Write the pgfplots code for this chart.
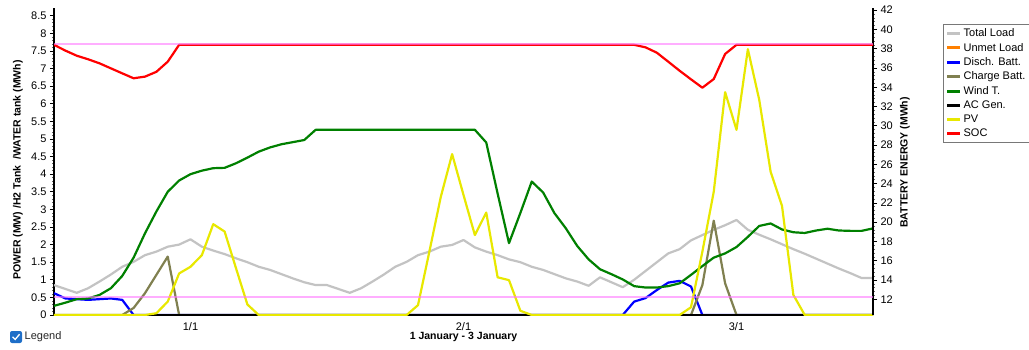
\documentclass[border=0pt]{standalone}
\usepackage{pgfplots}
\pgfplotsset{compat=1.18}
\usepackage{pgfplotstable}
\usepackage{fontspec}
\setmainfont{Liberation Sans}

\definecolor{cload}{RGB}{195,195,195}
\definecolor{cunmet}{RGB}{255,128,0}
\definecolor{cdis}{RGB}{0,0,255}
\definecolor{cchg}{RGB}{128,128,80}
\definecolor{cwind}{RGB}{0,128,0}
\definecolor{cpv}{RGB}{232,232,0}
\definecolor{csoc}{RGB}{255,0,0}
\definecolor{cpink}{RGB}{255,120,255}
\definecolor{cbox}{RGB}{30,110,200}
\definecolor{clegbox}{RGB}{120,120,120}

\pgfplotstableread{
h load unmet dis chg wind ac pv soc
0 0.85 0 0.62 0 0.26 0 0 38.4
1 0.74 0 0.47 0 0.35 0 0 37.8
2 0.63 0 0.45 0 0.45 0 0 37.27
3 0.76 0 0.43 0 0.47 0 0 36.9
4 0.95 0 0.45 0 0.57 0 0 36.48
5 1.15 0 0.47 0 0.76 0 0 35.96
6 1.37 0 0.43 0 1.11 0 0 35.44
7 1.51 0 0 0.20 1.63 0 0 34.93
8 1.70 0 0 0.62 2.32 0 0 35.1
9 1.80 0 0 1.14 2.94 0 0.05 35.6
10 1.94 0 0 1.66 3.50 0 0.38 36.65
11 2.00 0 0 0 3.82 0 1.18 38.4
12 2.15 0 0 0 4.00 0 1.37 38.4
13 1.94 0 0 0 4.10 0 1.70 38.4
14 1.83 0 0 0 4.17 0 2.58 38.4
15 1.73 0 0 0 4.18 0 2.37 38.4
16 1.61 0 0 0 4.31 0 1.33 38.4
17 1.50 0 0 0 4.47 0 0.30 38.4
18 1.37 0 0 0 4.64 0 0 38.4
19 1.28 0 0 0 4.76 0 0 38.4
20 1.16 0 0 0 4.85 0 0 38.4
21 1.04 0 0 0 4.91 0 0 38.4
22 0.93 0 0 0 4.97 0 0 38.4
23 0.85 0 0 0 5.26 0 0 38.4
24 0.85 0 0 0 5.26 0 0 38.4
25 0.74 0 0 0 5.26 0 0 38.4
26 0.63 0 0 0 5.26 0 0 38.4
27 0.76 0 0 0 5.26 0 0 38.4
28 0.95 0 0 0 5.26 0 0 38.4
29 1.15 0 0 0 5.26 0 0 38.4
30 1.37 0 0 0 5.26 0 0 38.4
31 1.51 0 0 0 5.26 0 0 38.4
32 1.70 0 0 0 5.26 0 0.28 38.4
33 1.80 0 0 0 5.26 0 1.80 38.4
34 1.94 0 0 0 5.26 0 3.35 38.4
35 1.99 0 0 0 5.26 0 4.57 38.4
36 2.13 0 0 0 5.26 0 3.41 38.4
37 1.92 0 0 0 5.26 0 2.27 38.4
38 1.80 0 0 0 4.90 0 2.91 38.4
39 1.70 0 0 0 3.45 0 1.07 38.4
40 1.58 0 0 0 2.04 0 0.99 38.4
41 1.50 0 0 0 2.90 0 0.12 38.4
42 1.37 0 0 0 3.79 0 0 38.4
43 1.28 0 0 0 3.48 0 0 38.4
44 1.16 0 0 0 2.89 0 0 38.4
45 1.04 0 0 0 2.46 0 0 38.4
46 0.95 0 0 0 1.96 0 0 38.4
47 0.83 0 0 0 1.58 0 0 38.4
48 1.07 0 0 0 1.30 0 0 38.4
49 0.93 0 0 0 1.16 0 0 38.4
50 0.79 0 0 0 1.01 0 0 38.4
51 1.00 0 0.38 0 0.82 0 0 38.4
52 1.25 0 0.48 0 0.78 0 0 38.14
53 1.50 0 0.71 0 0.78 0 0 37.58
54 1.75 0 0.92 0 0.82 0 0 36.65
55 1.87 0 0.97 0 0.90 0 0 35.71
56 2.12 0 0.81 0 1.14 0 0.22 34.82
57 2.27 0 0 0.85 1.39 0 1.80 33.95
58 2.42 0 0 2.68 1.63 0 3.50 34.85
59 2.55 0 0 0.90 1.75 0 6.33 37.45
60 2.70 0 0 0 1.93 0 5.26 38.4
61 2.42 0 0 0 2.22 0 7.55 38.4
62 2.28 0 0 0 2.53 0 6.11 38.4
63 2.15 0 0 0 2.60 0 4.07 38.4
64 2.01 0 0 0 2.43 0 3.10 38.4
65 1.87 0 0 0 2.35 0 0.57 38.4
66 1.74 0 0 0 2.33 0 0 38.4
67 1.60 0 0 0 2.40 0 0 38.4
68 1.46 0 0 0 2.45 0 0 38.4
69 1.32 0 0 0 2.40 0 0 38.4
70 1.19 0 0 0 2.39 0 0 38.4
71 1.05 0 0 0 2.39 0 0 38.4
72 1.05 0 0 0 2.46 0 0 38.4
}\data

\pgfplotsset{
  every axis/.append style={
    scale only axis, width=819pt, height=307pt,
    xmin=0, xmax=72,
    tick label style={font=\fontsize{11}{13}\selectfont},
    label style={font=\bfseries\fontsize{10.5}{12}\selectfont},
    /pgf/number format/assume math mode=true,
  },
}

\begin{document}
\begin{tikzpicture}[x=1pt,y=1pt]
\path[use as bounding box] (0,0) rectangle (1029,349);

\begin{axis}[
  at={(54pt,34pt)}, anchor=south west,
  axis y line*=left, axis x line*=bottom,
  axis line style={-, line width=1.6pt, black},
  ymin=0, ymax=8.72,
  ytick={0,0.5,...,8.5},
  minor y tick num=4,
  tick align=outside,
  major tick length=4pt, minor tick length=2pt,
  every tick/.style={black, line width=0.8pt},
  every minor tick/.style={black!60, line width=0.6pt},
  xtick={12,36,60}, xticklabels={1/1,2/1,3/1},
  xtick style={draw=none},
  ylabel={POWER (MW) /H2 Tank \ /WATER tank (MWh)},
  ylabel style={at={(axis description cs:-0.044,0.472)}, anchor=center},
  xlabel={1 January - 3 January},
  xlabel style={at={(axis description cs:0.5,-0.0717)}, anchor=center},
  legend style={at={(rel axis cs:1.0855,0.948)}, anchor=north west,
    draw=clegbox, line width=1.2pt,
    font=\fontsize{11}{13}\selectfont, inner sep=2pt, row sep=1pt,
    cells={anchor=west}},
  legend image code/.code={\draw[#1, line width=3pt] (0pt,0pt) -- (13pt,0pt);},
  every axis plot/.append style={line width=2.2pt, line join=round},
]
\addplot[cload] table[x=h, y=load] {\data};
\addlegendentry{Total Load}
\addplot[cunmet] table[x=h, y=unmet] {\data};
\addlegendentry{Unmet Load}
\addplot[cdis] table[x=h, y=dis] {\data};
\addlegendentry{Disch. Batt.}
\addplot[cchg] table[x=h, y=chg] {\data};
\addlegendentry{Charge Batt.}
\addplot[cwind] table[x=h, y=wind] {\data};
\addlegendentry{Wind T.}
\addplot[black] table[x=h, y=ac] {\data};
\addlegendentry{AC Gen.}
\addplot[cpv] table[x=h, y=pv] {\data};
\addlegendentry{PV}
\addlegendimage{csoc}
\addlegendentry{SOC}
\end{axis}

\begin{axis}[
  at={(54pt,34pt)}, anchor=south west,
  axis y line*=right, axis x line=none,
  axis line style={-, line width=1.6pt, black},
  ymin=10.37, ymax=42.22,
  ytick={12,14,...,42},
  minor y tick num=4,
  tick align=outside,
  major tick length=4pt, minor tick length=2pt,
  every tick/.style={black, line width=0.8pt},
  every minor tick/.style={black!60, line width=0.6pt},
  ylabel={BATTERY ENERGY (MWh)},
  ylabel style={at={(axis description cs:1.039,0.497)}, anchor=center},
  every axis plot/.append style={line width=2.2pt, line join=round},
]
\addplot[csoc] table[x=h, y=soc] {\data};
\addplot[cpink, opacity=0.6] coordinates {(0,38.45) (72,38.45)};
\addplot[cpink, opacity=0.6] coordinates {(0,12.27) (72,12.27)};
\end{axis}

\fill[cbox, rounded corners=2pt] (10,6) rectangle (22,18);
\draw[white, line width=1.3pt] (12.6,12.2) -- (15.2,9.6) -- (19.6,14.8);
\node[anchor=west, inner sep=0pt, font=\fontsize{11}{13}\selectfont, text=black!85] at (24.5,12) {Legend};
\end{tikzpicture}
\end{document}
